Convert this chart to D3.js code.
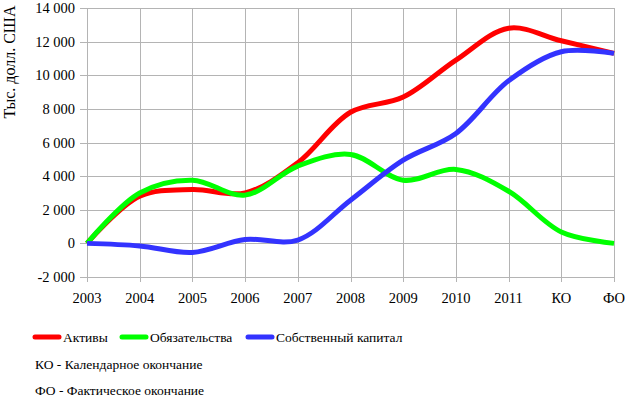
<!DOCTYPE html>
<html>
<head>
<meta charset="utf-8">
<script src="https://cdn.jsdelivr.net/npm/d3@7"></script>
<style>
  body { margin: 0; background: #fff; }
</style>
</head>
<body>
<svg width="627" height="397"></svg>
<script>
// categories on the x axis
var years = ["2003", "2004", "2005", "2006", "2007", "2008", "2009", "2010", "2011", "КО", "ФО"];

// series values, thousand USD
var assets      = [0, 2800, 3200, 3000, 4800, 7800, 8700, 10900, 12800, 12050, 11300];
var liabilities = [0, 3000, 3760, 2870, 4600, 5290, 3760, 4400, 3100, 680, 0];
var equity      = [0, -150, -540, 230, 200, 2570, 4950, 6540, 9670, 11400, 11300];

var yTicks = [-2000, 0, 2000, 4000, 6000, 8000, 10000, 12000, 14000];

var seriesNames  = ["Активы", "Обязательства", "Собственный капитал"];
var seriesColors = ["#ff0000", "#00ff00", "#3333ff"];
var notes = ["КО - Календарное окончание", "ФО - Фактическое окончание"];

var FONT = "'Liberation Serif', 'Times New Roman', serif";

var svg = d3.select("svg")
    .style("font-family", FONT);

var x = d3.scalePoint()
    .domain(years)
    .range([87, 614]);

var y = d3.scaleLinear()
    .domain([-2000, 14000])
    .range([277, 8]);

var fmt = function(v) { return d3.format(",")(v).replace(/,/g, " ").replace("−", "-"); };

// grid
var grid = svg.append("g").attr("class", "grid");
grid.selectAll(".hgrid").data(yTicks).enter().append("line")
    .attr("x1", 80).attr("x2", 614)
    .attr("y1", function(d) { return Math.round(y(d)) + 0.5; })
    .attr("y2", function(d) { return Math.round(y(d)) + 0.5; })
    .style("stroke", "#b4b4b4").style("stroke-width", 1);
grid.selectAll(".vgrid").data(years).enter().append("line")
    .attr("y1", 8).attr("y2", 282)
    .attr("x1", function(d) { return Math.round(x(d)) + 0.5; })
    .attr("x2", function(d) { return Math.round(x(d)) + 0.5; })
    .style("stroke", "#b4b4b4").style("stroke-width", 1);

// y tick labels
svg.append("g").selectAll("text").data(yTicks).enter().append("text")
    .attr("x", 75)
    .attr("y", function(d) { return y(d); })
    .attr("dy", "0.35em")
    .attr("text-anchor", "end")
    .attr("font-size", 14.5)
    .text(function(d) { return fmt(d); });

// x tick labels
svg.append("g").selectAll("text").data(years).enter().append("text")
    .attr("x", function(d) { return x(d); })
    .attr("y", 298)
    .attr("dy", "0.35em")
    .attr("text-anchor", "middle")
    .attr("font-size", 14.5)
    .text(function(d) { return d; });

// y axis title
svg.append("text")
    .attr("transform", "translate(9,62) rotate(-90)")
    .attr("text-anchor", "middle")
    .attr("dy", "0.35em")
    .attr("font-size", 16)
    .text("Тыс. долл. США");

// lines
var line = d3.line()
    .x(function(d, i) { return x(years[i]); })
    .y(function(d) { return y(d); })
    .curve(d3.curveCatmullRom.alpha(0.5));

var series = [assets, liabilities, equity];
svg.append("g").selectAll("path").data(series).enter().append("path")
    .attr("d", line)
    .style("fill", "none")
    .style("stroke", function(d, i) { return seriesColors[i]; })
    .style("stroke-width", 5)
    .style("stroke-linejoin", "round");

// legend
var legendX = [35, 122, 248];
var legend = svg.append("g").selectAll("g").data(seriesNames).enter().append("g")
    .attr("transform", function(d, i) { return "translate(" + legendX[i] + ",337)"; });
legend.append("line")
    .attr("x1", 0).attr("x2", 24).attr("y1", 0).attr("y2", 0)
    .style("stroke", function(d, i) { return seriesColors[i]; })
    .style("stroke-width", 5)
    .style("stroke-linecap", "round");
legend.append("text")
    .attr("x", 28).attr("dy", "0.35em")
    .attr("font-size", 13.5)
    .text(function(d) { return d; });

svg.append("g").selectAll("text").data(notes).enter().append("text")
    .attr("x", 35)
    .attr("y", function(d, i) { return 364 + i * 26; })
    .attr("dy", "0.35em")
    .attr("font-size", 13.5)
    .text(function(d) { return d; });
</script>
</body>
</html>
